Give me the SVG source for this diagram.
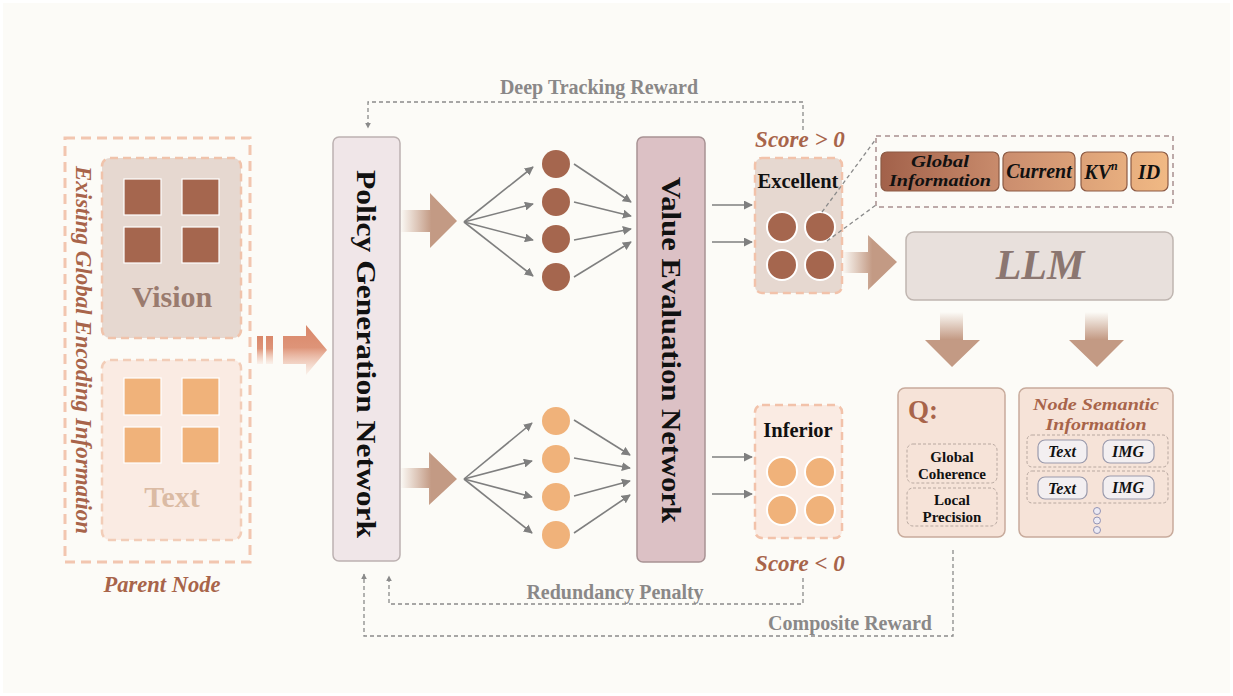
<svg xmlns="http://www.w3.org/2000/svg" width="1233" height="696" viewBox="0 0 1233 696">
<defs>
<style>
.serif{font-family:"Liberation Serif","Times New Roman",serif;font-weight:bold}
.it{font-style:italic}
.brown{fill:#a8644a}
.gray{fill:#8a8888}
.dash{fill:none;stroke:#8a8a8a;stroke-width:1.3;stroke-dasharray:4 3}
.fan{stroke:#7f7f7f;stroke-width:1.6;fill:none}
.outerdash{fill:none;stroke:#f2c6b0;stroke-width:3;stroke-dasharray:10 6}
.sq1{fill:#a5664e;stroke:#fff;stroke-width:1.2}
.sq2{fill:#f0b27a;stroke:#fff;stroke-width:1.2}
.c1{fill:#a5664e;stroke:#fff;stroke-width:2}
.c2{fill:#f0b27a;stroke:#fff;stroke-width:2}
.chip{stroke:#8c5a44;stroke-width:1.2;fill:url(#chipG)}
.small{fill:#f3eff1;stroke:#9a9aac;stroke-width:1.2}
.rowd{fill:none;stroke:#b8a8a0;stroke-width:1;stroke-dasharray:3 2}
</style>
<marker id="ah" viewBox="0 0 10 10" refX="9" refY="5" markerWidth="9" markerHeight="9" markerUnits="userSpaceOnUse" orient="auto">
<path d="M0,0 L10,5 L0,10 z" fill="#7f7f7f"/>
</marker>
<marker id="ahs" viewBox="0 0 10 10" refX="9" refY="5" markerWidth="6" markerHeight="6" markerUnits="userSpaceOnUse" orient="auto">
<path d="M0,0 L10,5 L0,10 z" fill="#8a8a8a"/>
</marker>
<linearGradient id="hArrow" x1="0" y1="0" x2="1" y2="0">
<stop offset="0" stop-color="#c39a84" stop-opacity="0"/>
<stop offset="0.55" stop-color="#c39a84" stop-opacity="1"/>
<stop offset="1" stop-color="#c39a84"/>
</linearGradient>
<linearGradient id="vArrow" x1="0" y1="0" x2="0" y2="1">
<stop offset="0" stop-color="#c39a84" stop-opacity="0"/>
<stop offset="0.5" stop-color="#c39a84" stop-opacity="1"/>
<stop offset="1" stop-color="#c39a84"/>
</linearGradient>
<linearGradient id="stripeG" x1="0" y1="0" x2="0" y2="1">
<stop offset="0" stop-color="#d9876a"/>
<stop offset="0.45" stop-color="#de9478"/>
<stop offset="1" stop-color="#f2c8b6" stop-opacity="0.2"/>
</linearGradient>
<linearGradient id="chipG" gradientUnits="userSpaceOnUse" x1="881" y1="0" x2="1168" y2="0">
<stop offset="0" stop-color="#a2614a"/>
<stop offset="0.45" stop-color="#cc8f6f"/>
<stop offset="1" stop-color="#f1b984"/>
</linearGradient>
</defs>

<rect x="0" y="0" width="1233" height="696" fill="#ffffff"/>
<rect x="3" y="3" width="1227" height="690" fill="#fcfbf7"/>

<g id="parent-node">
<rect x="65" y="138" width="185" height="424" class="outerdash"/>
<text class="serif it brown" font-size="23" transform="translate(83,350) rotate(90)" text-anchor="middle" dominant-baseline="central" textLength="368" lengthAdjust="spacingAndGlyphs">Existing Global Encoding Information</text>
<text class="serif it brown" x="162" y="592" font-size="22.5" text-anchor="middle">Parent Node</text>
</g>

<g id="vision">
<rect x="102" y="158" width="139" height="180" rx="8" fill="#e6d8d0" stroke="#f0c3ab" stroke-width="2.5" stroke-dasharray="8 5"/>
<rect x="124" y="179" width="37" height="36" class="sq1"/>
<rect x="182" y="179" width="37" height="36" class="sq1"/>
<rect x="124" y="227" width="37" height="36" class="sq1"/>
<rect x="182" y="227" width="37" height="36" class="sq1"/>
<text class="serif" x="172" y="307" font-size="30" fill="#9a7b6e" text-anchor="middle">Vision</text>
</g>

<g id="text-modality">
<rect x="102" y="360" width="139" height="180" rx="8" fill="#faebe3" stroke="#f2cdb8" stroke-width="2.5" stroke-dasharray="8 5"/>
<rect x="124" y="378" width="37" height="37" class="sq2"/>
<rect x="182" y="378" width="37" height="37" class="sq2"/>
<rect x="124" y="427" width="37" height="36" class="sq2"/>
<rect x="182" y="427" width="37" height="36" class="sq2"/>
<text class="serif" x="172" y="507" font-size="30" fill="#dbbba4" text-anchor="middle">Text</text>
</g>

<g id="striped-arrow">
<rect x="257" y="336" width="6" height="28" fill="url(#stripeG)"/>
<rect x="266" y="336" width="7" height="28" fill="url(#stripeG)"/>
<path d="M283,336 H306 V325 L327,350 L306,375 V364 H283 z" fill="url(#stripeG)"/>
</g>

<g id="policy-network">
<rect x="333" y="137" width="67" height="424" rx="6" fill="#f0e6e8" stroke="#bcb1b1" stroke-width="1.5"/>
<text class="serif" font-size="28" fill="#111" transform="translate(366,354) rotate(90)" text-anchor="middle" dominant-baseline="central" textLength="368" lengthAdjust="spacingAndGlyphs">Policy Generation Network</text>
</g>

<g id="fat-arrows">
<path d="M400,210 H430 V193 L457,221 L430,248 V232 H400 z" fill="url(#hArrow)"/>
<path d="M400,468 H429 V452 L457,479 L429,505 V488 H400 z" fill="url(#hArrow)"/>
<path d="M842,252 H868 V235 L897,262 L868,290 V273 H842 z" fill="url(#hArrow)"/>
<path d="M940,312 H963 V340 H980 L952,367 L925,340 H940 z" fill="url(#vArrow)"/>
<path d="M1085,312 H1108 V340 H1124 L1097,367 L1069,340 H1085 z" fill="url(#vArrow)"/>
</g>

<g id="candidates-top">
<circle cx="556" cy="164" r="14" fill="#a5664e"/>
<circle cx="556" cy="202" r="14" fill="#a5664e"/>
<circle cx="556" cy="239" r="14" fill="#a5664e"/>
<circle cx="556" cy="277" r="14" fill="#a5664e"/>
</g>
<g id="candidates-bottom">
<circle cx="556" cy="421" r="14" fill="#f0b27a"/>
<circle cx="556" cy="459" r="14" fill="#f0b27a"/>
<circle cx="556" cy="497" r="14" fill="#f0b27a"/>
<circle cx="556" cy="535" r="14" fill="#f0b27a"/>
</g>

<g id="value-network">
<rect x="637" y="137" width="68" height="425" rx="6" fill="#dcc1c5" stroke="#a89294" stroke-width="1.5"/>
<text class="serif" font-size="28" fill="#111" transform="translate(671,350) rotate(90)" text-anchor="middle" dominant-baseline="central" textLength="346" lengthAdjust="spacingAndGlyphs">Value Evaluation Network</text>
</g>

<g id="excellent">
<text class="serif it brown" x="800" y="147" font-size="23" text-anchor="middle">Score &gt; 0</text>
<rect x="755" y="158" width="87" height="135" rx="7" fill="#e6d8d0" stroke="#f2c2aa" stroke-width="2.5" stroke-dasharray="8 5"/>
<text class="serif" x="798" y="188" font-size="20.5" fill="#111" text-anchor="middle">Excellent</text>
<circle cx="782" cy="227" r="15" class="c1"/>
<circle cx="820" cy="227" r="15" class="c1"/>
<circle cx="782" cy="265" r="15" class="c1"/>
<circle cx="820" cy="265" r="15" class="c1"/>
</g>

<g id="inferior">
<rect x="755" y="405" width="87" height="133" rx="7" fill="#faebe3" stroke="#f2c2aa" stroke-width="2.5" stroke-dasharray="8 5"/>
<text class="serif" x="798" y="437" font-size="20.5" fill="#111" text-anchor="middle">Inferior</text>
<circle cx="782" cy="472" r="15" class="c2"/>
<circle cx="820" cy="472" r="15" class="c2"/>
<circle cx="782" cy="510" r="15" class="c2"/>
<circle cx="820" cy="510" r="15" class="c2"/>
<text class="serif it brown" x="800" y="571" font-size="23" text-anchor="middle">Score &lt; 0</text>
</g>

<g id="token-box">
<rect x="876" y="136" width="297" height="71" fill="none" stroke="#a89090" stroke-width="1.5" stroke-dasharray="5 4"/>
<rect x="881" y="152" width="118" height="39" rx="6" class="chip"/>
<rect x="1003" y="152" width="72" height="39" rx="6" class="chip"/>
<rect x="1081" y="152" width="46" height="39" rx="6" class="chip"/>
<rect x="1131" y="152" width="37" height="39" rx="6" class="chip"/>
<text class="serif it" font-size="17" fill="#111" text-anchor="middle"><tspan x="940" y="167" textLength="58" lengthAdjust="spacingAndGlyphs">Global</tspan><tspan x="940" y="186" textLength="102" lengthAdjust="spacingAndGlyphs">Information</tspan></text>
<text class="serif it" x="1039" y="178" font-size="20" fill="#111" text-anchor="middle">Current</text>
<text class="serif it" x="1101" y="179" font-size="20" fill="#111" text-anchor="middle">KV<tspan font-size="12" dy="-9">n</tspan></text>
<text class="serif it" x="1149" y="179" font-size="20" fill="#111" text-anchor="middle">ID</text>
</g>

<g id="llm">
<rect x="906" y="232" width="267" height="68" rx="8" fill="#e8e0dc" stroke="#bfb5b0" stroke-width="1.5"/>
<text class="serif it" x="1040" y="279" font-size="42" fill="#8b7670" text-anchor="middle">LLM</text>
</g>

<g id="q-box">
<rect x="898" y="388" width="107" height="149" rx="7" fill="#f6e3d8" stroke="#c8ab9c" stroke-width="1.5"/>
<text class="serif brown" x="908" y="419" font-size="27">Q:</text>
<rect x="907" y="444" width="90" height="39" rx="6" class="rowd"/>
<text class="serif" font-size="15" fill="#111" text-anchor="middle"><tspan x="952" y="462">Global</tspan><tspan x="952" y="479">Coherence</tspan></text>
<rect x="907" y="488" width="90" height="38" rx="6" class="rowd"/>
<text class="serif" font-size="15" fill="#111" text-anchor="middle"><tspan x="952" y="505">Local</tspan><tspan x="952" y="522">Precision</tspan></text>
</g>

<g id="node-semantic">
<rect x="1019" y="388" width="154" height="149" rx="7" fill="#f6e3d8" stroke="#c8ab9c" stroke-width="1.5"/>
<text class="serif it brown" font-size="17.5" text-anchor="middle"><tspan x="1096" y="410" textLength="126" lengthAdjust="spacingAndGlyphs">Node Semantic</tspan><tspan x="1096" y="429.5" textLength="101" lengthAdjust="spacingAndGlyphs">Information</tspan></text>
<rect x="1027" y="435" width="141" height="32" rx="5" class="rowd"/>
<rect x="1027" y="471" width="141" height="32" rx="5" class="rowd"/>
<rect x="1038" y="440" width="49" height="23" rx="7" class="small"/>
<rect x="1103" y="440" width="51" height="23" rx="7" class="small"/>
<rect x="1038" y="477" width="49" height="22" rx="7" class="small"/>
<rect x="1103" y="476" width="51" height="23" rx="7" class="small"/>
<text class="serif it" x="1062" y="457" font-size="16" fill="#111" text-anchor="middle">Text</text>
<text class="serif it" x="1128" y="457" font-size="16" fill="#111" text-anchor="middle">IMG</text>
<text class="serif it" x="1062" y="494" font-size="16" fill="#111" text-anchor="middle">Text</text>
<text class="serif it" x="1128" y="493" font-size="16" fill="#111" text-anchor="middle">IMG</text>
<circle cx="1097" cy="511" r="3.5" fill="#eceaf4" stroke="#9494b4" stroke-width="1"/>
<circle cx="1097" cy="520.5" r="3.5" fill="#eceaf4" stroke="#9494b4" stroke-width="1"/>
<circle cx="1097" cy="530" r="3.5" fill="#eceaf4" stroke="#9494b4" stroke-width="1"/>
</g>

<g id="connectors">
<line x1="464" y1="222" x2="533" y2="167" class="fan" marker-end="url(#ah)"/>
<line x1="464" y1="222" x2="533" y2="204" class="fan" marker-end="url(#ah)"/>
<line x1="464" y1="222" x2="533" y2="240" class="fan" marker-end="url(#ah)"/>
<line x1="464" y1="222" x2="533" y2="276" class="fan" marker-end="url(#ah)"/>
<line x1="574" y1="164" x2="631" y2="202" class="fan" marker-end="url(#ah)"/>
<line x1="574" y1="202" x2="631" y2="216" class="fan" marker-end="url(#ah)"/>
<line x1="574" y1="240" x2="631" y2="229" class="fan" marker-end="url(#ah)"/>
<line x1="574" y1="277" x2="631" y2="242" class="fan" marker-end="url(#ah)"/>
<line x1="464" y1="479" x2="532" y2="423" class="fan" marker-end="url(#ah)"/>
<line x1="464" y1="479" x2="532" y2="461" class="fan" marker-end="url(#ah)"/>
<line x1="464" y1="479" x2="532" y2="497" class="fan" marker-end="url(#ah)"/>
<line x1="464" y1="479" x2="532" y2="533" class="fan" marker-end="url(#ah)"/>
<line x1="574" y1="420" x2="630" y2="455" class="fan" marker-end="url(#ah)"/>
<line x1="574" y1="458" x2="630" y2="468" class="fan" marker-end="url(#ah)"/>
<line x1="574" y1="496" x2="630" y2="481" class="fan" marker-end="url(#ah)"/>
<line x1="574" y1="533" x2="630" y2="495" class="fan" marker-end="url(#ah)"/>
<line x1="712" y1="205" x2="752" y2="205" class="fan" marker-end="url(#ah)"/>
<line x1="712" y1="242" x2="752" y2="242" class="fan" marker-end="url(#ah)"/>
<line x1="712" y1="457" x2="752" y2="457" class="fan" marker-end="url(#ah)"/>
<line x1="712" y1="494" x2="752" y2="494" class="fan" marker-end="url(#ah)"/>
<line x1="822" y1="212" x2="876" y2="139" class="dash" stroke-width="1"/>
<line x1="827" y1="241" x2="876" y2="205" class="dash" stroke-width="1"/>
<path d="M803,130 V102 H368 V128" class="dash" marker-end="url(#ahs)"/>
<path d="M803,578 V604 H389 V576" class="dash" marker-end="url(#ahs)"/>
<path d="M953,550 V636 H364 V574" class="dash" marker-end="url(#ahs)"/>
</g>

<g id="labels">
<text class="serif gray" x="599" y="94" font-size="20" text-anchor="middle">Deep Tracking Reward</text>
<text class="serif gray" x="615" y="599" font-size="20" text-anchor="middle">Redundancy Penalty</text>
<text class="serif gray" x="850" y="630" font-size="20" text-anchor="middle">Composite Reward</text>
</g>
</svg>
